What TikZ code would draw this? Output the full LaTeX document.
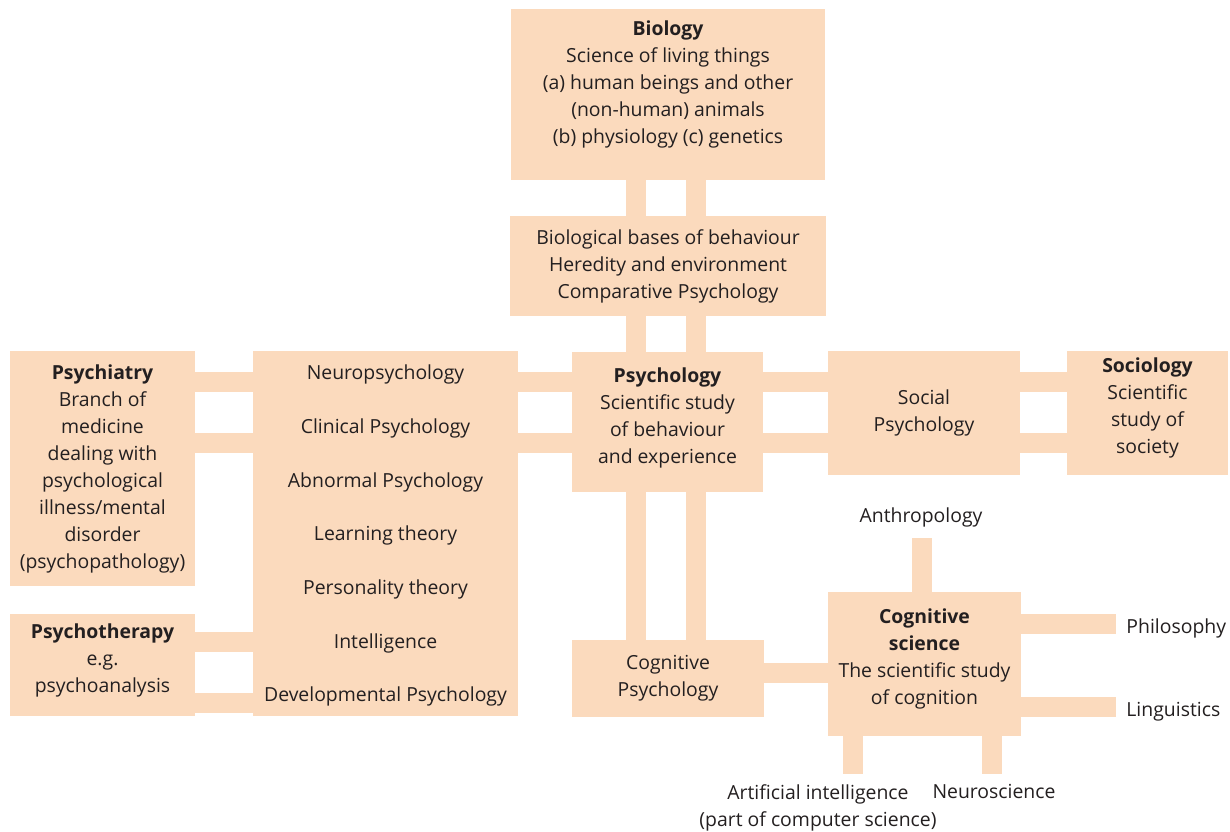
\documentclass[tikz,border=0pt]{standalone}
\usepackage{fontspec}
\setmainfont{Open Sans}
\usetikzlibrary{positioning}
\definecolor{peach}{RGB}{251,218,189}
\definecolor{ink}{RGB}{35,31,32}

\begin{document}
\begin{tikzpicture}[x=0.5pt, y=-0.5pt,
    box/.style={fill=peach, inner sep=0pt, align=center, text=ink,
                font=\fontsize{9.7}{13.5}\selectfont},
    tag/.style={text=ink, align=center, inner xsep=5pt, inner ysep=5pt,
                font=\fontsize{9.7}{13.5}\selectfont},
    bar/.style={draw=peach, line width=9.75pt}]
  \useasboundingbox (0,0) rectangle (1230,831);

  % boxes
  \node[box, minimum width=157pt, minimum height=85.5pt, text depth=12pt] (biology) at (668,94.5)
    {\textbf{Biology}\\Science of living things\\(a) human beings and other\\(non-human) animals\\(b) physiology (c) genetics};
  \node[box, minimum width=158pt, minimum height=50pt] (bases) at (668,266)
    {Biological bases of behaviour\\Heredity and environment\\Comparative Psychology};
  \node[box, minimum width=92.5pt, minimum height=117.5pt] (psychiatry) at (102.5,468.5)
    {\textbf{Psychiatry}\\Branch of\\medicine\\dealing with\\psychological\\illness/mental\\disorder\\(psychopathology)};
  \node[box, minimum width=132.5pt, minimum height=182.5pt, text depth=0pt,
        font=\fontsize{9.7}{26.85}\selectfont] (branches) at (385.5,533.5)
    {Neuropsychology\\Clinical Psychology\\Abnormal Psychology\\Learning theory\\Personality theory\\Intelligence\\Developmental Psychology};
  \node[box, minimum width=92.5pt, minimum height=51pt, text depth=7pt] (psychotherapy) at (102.5,665)
    {\textbf{Psychotherapy}\\e.g.\\psychoanalysis};
  \node[box, minimum width=95.5pt, minimum height=70pt, text depth=6pt] (psychology) at (667.5,422)
    {\textbf{Psychology}\\Scientific study\\of behaviour\\and experience};
  \node[box, minimum width=96pt, minimum height=62pt] (social) at (924,413)
    {Social\\Psychology};
  \node[box, minimum width=80.5pt, minimum height=62pt, text depth=7pt] (sociology) at (1147.5,413)
    {\textbf{Sociology}\\Scientific\\study of\\society};
  \node[box, minimum width=96pt, minimum height=38.5pt] (cogpsy) at (668,678.5)
    {Cognitive\\Psychology};
  \node[box, minimum width=96.5pt, minimum height=72pt, text depth=7pt] (cogsci) at (924.5,664)
    {\textbf{Cognitive}\\\textbf{science}\\The scientific study\\of cognition};

  % outer fields
  \node[tag, anchor=south] (anthropology) at (921,538) {Anthropology};
  \node[tag, anchor=west] (philosophy) at (1116,628) {Philosophy};
  \node[tag, anchor=west] (linguistics) at (1116,712) {Linguistics};
  \node[tag, anchor=north] (ai) at (818,774) {Artificial intelligence\\(part of computer science)};
  \node[tag, anchor=north] (neuroscience) at (994,774) {Neuroscience};

  % bars
  \foreach \x in {636,696} {
    \draw[bar] (biology.south -| \x,0) -- (bases.north -| \x,0);
    \draw[bar] (bases.south -| \x,0) -- (psychology.north -| \x,0);
    \draw[bar] (psychology.south -| \x,0) -- (cogpsy.north -| \x,0);
  }
  \foreach \y in {382,443} {
    \draw[bar] (psychiatry.east |- 0,\y) -- (branches.west |- 0,\y);
    \draw[bar] (branches.east |- 0,\y) -- (psychology.west |- 0,\y);
    \draw[bar] (psychology.east |- 0,\y) -- (social.west |- 0,\y);
    \draw[bar] (social.east |- 0,\y) -- (sociology.west |- 0,\y);
  }
  \foreach \y in {642,703}
    \draw[bar] (psychotherapy.east |- 0,\y) -- (branches.west |- 0,\y);
  \draw[bar] (cogpsy.east |- 0,673) -- (cogsci.west |- 0,673);
  \draw[bar] (cogsci.north -| 922,0) -- (anthropology.south -| 922,0);
  \draw[bar] (cogsci.east |- 0,624) -- (philosophy.west |- 0,624);
  \draw[bar] (cogsci.east |- 0,707) -- (linguistics.west |- 0,707);
  \draw[bar] (cogsci.south -| 853,0) -- (ai.north -| 853,0);
  \draw[bar] (cogsci.south -| 992,0) -- (neuroscience.north -| 992,0);
\end{tikzpicture}
\end{document}
